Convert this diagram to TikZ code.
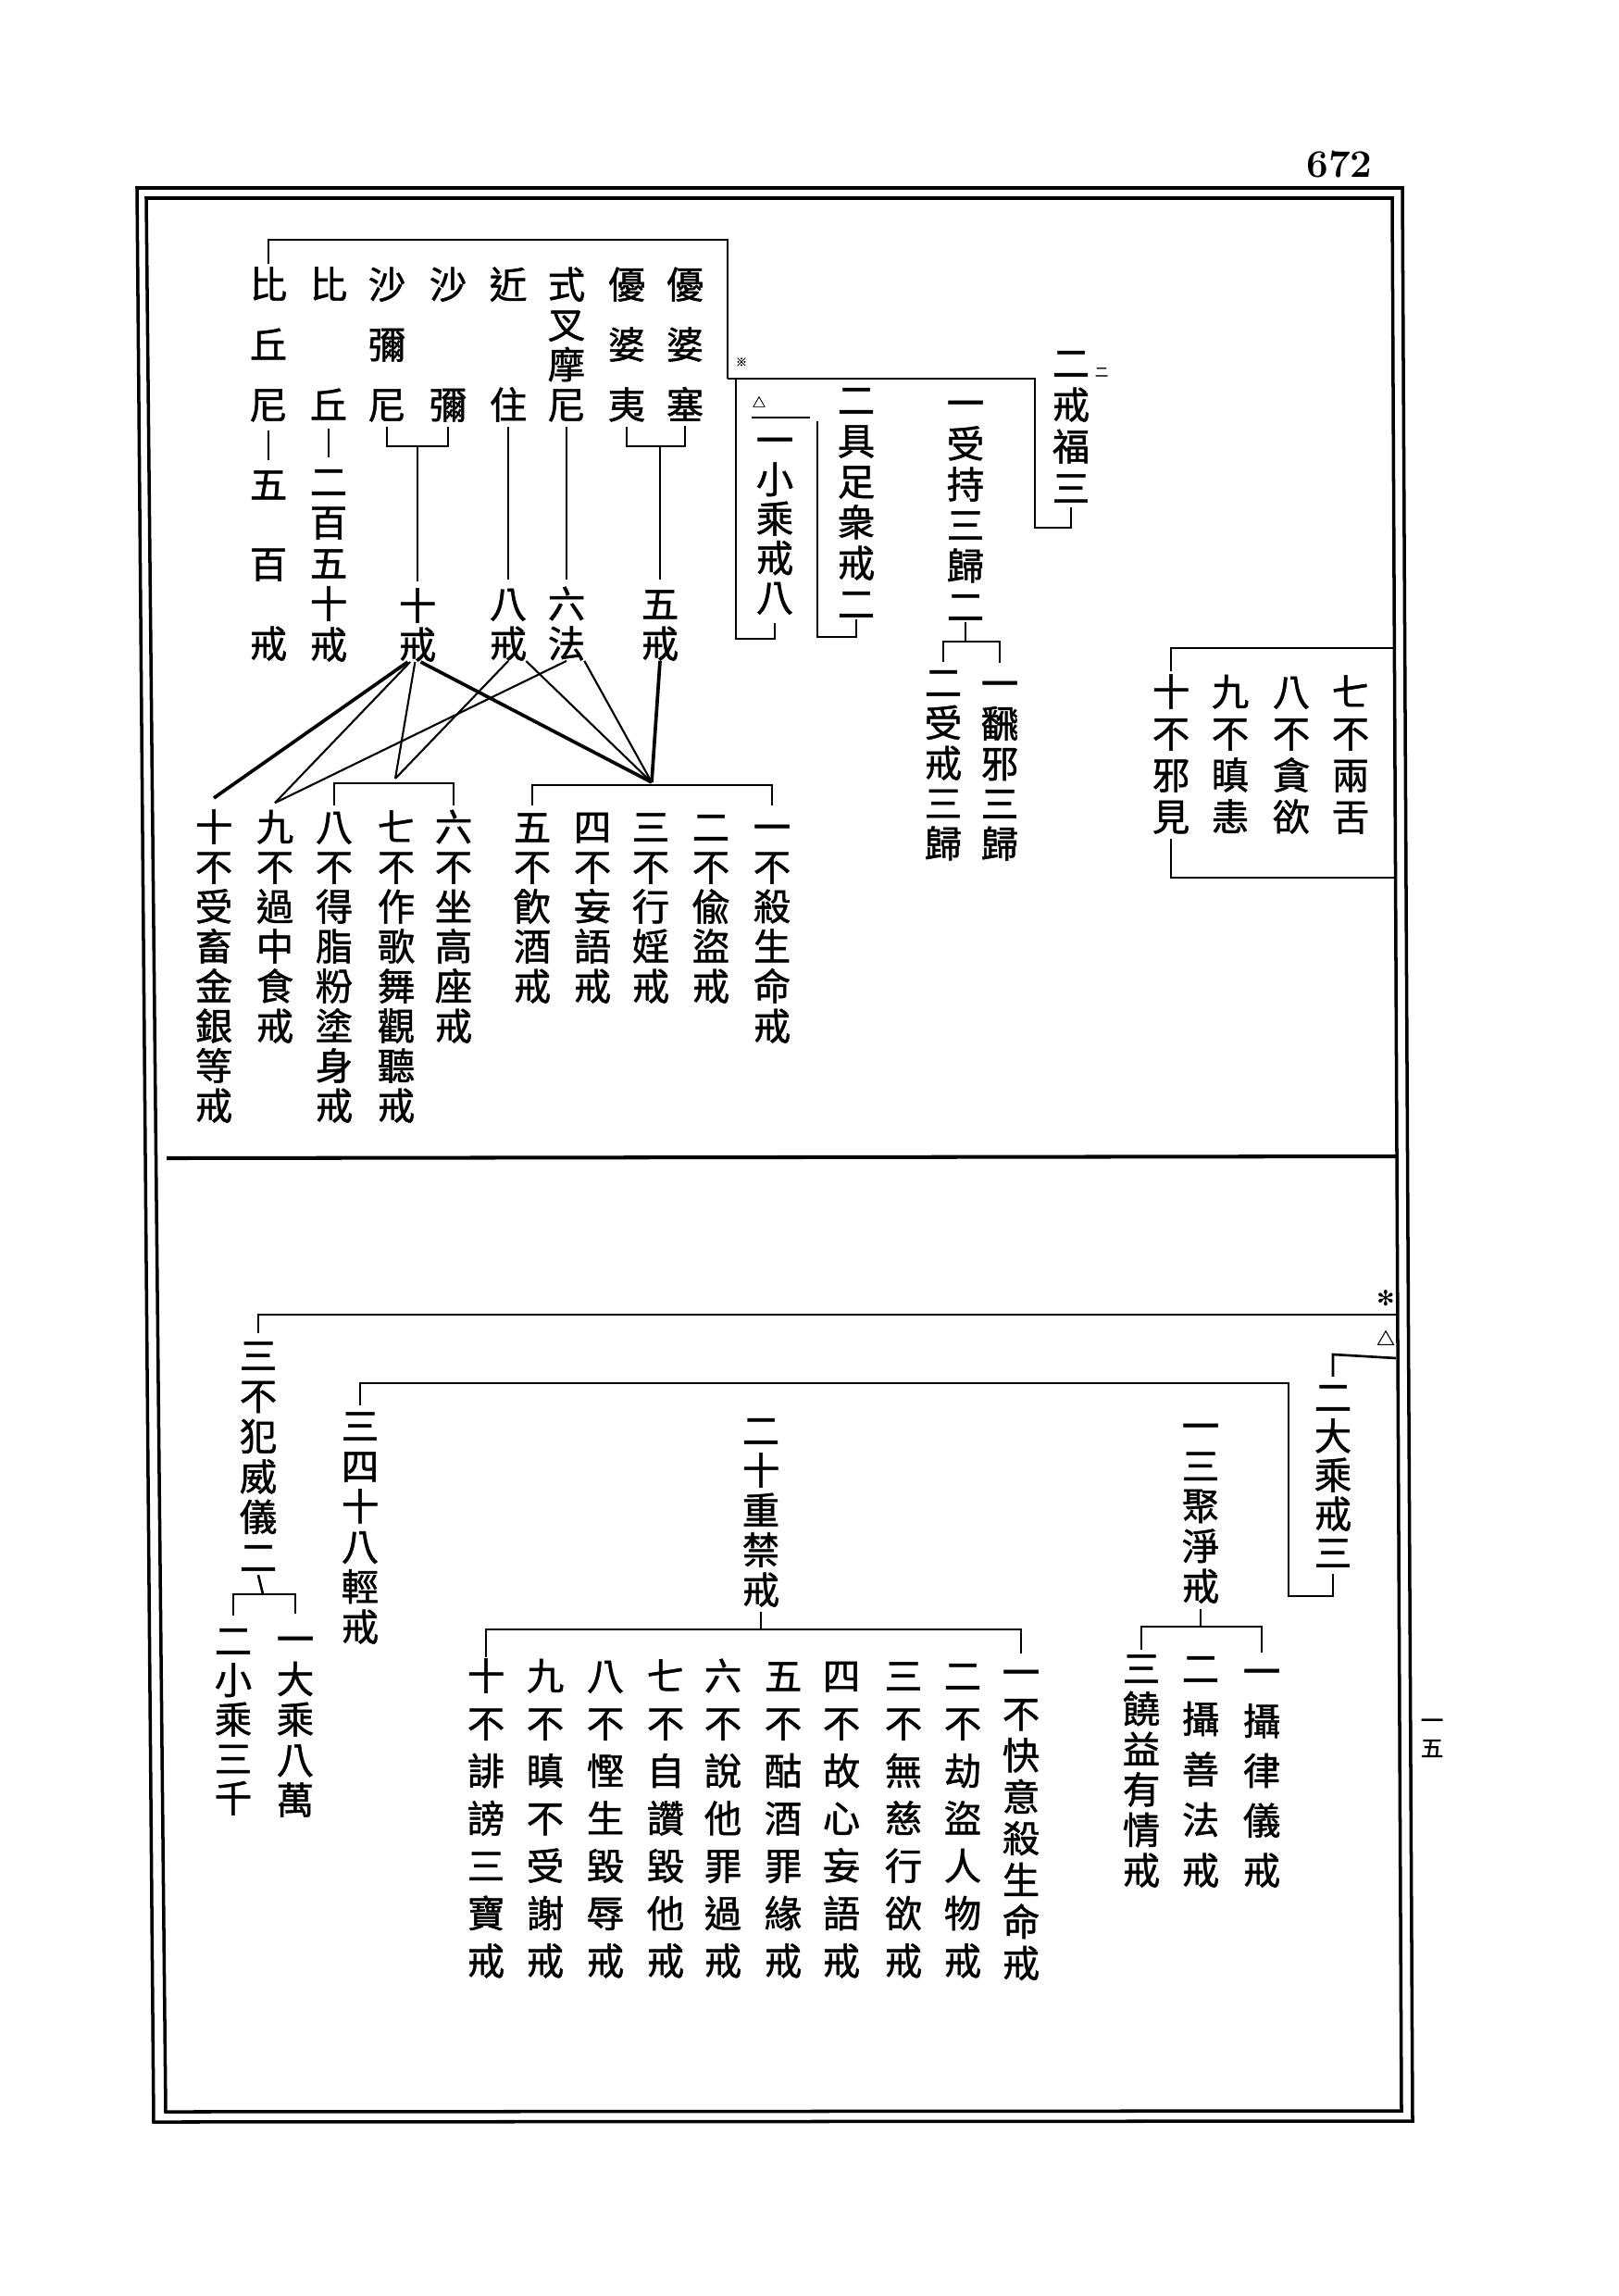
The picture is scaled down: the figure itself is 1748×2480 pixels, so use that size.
\documentclass[tikz,border=0pt]{standalone}
\usepackage{fontspec}
\newfontfamily\cjk{Noto Sans CJK TC}[FakeBold=1.2]
\newfontfamily\symb{DejaVu Sans}
\newdimen\pxu
\pxu=0.02cm
\lineskiplimit=-100pt
\ExplSyntaxOn
\NewDocumentCommand\tate{m}{\tl_map_inline:nn{#1}{##1\par}}
\ExplSyntaxOff

\begin{document}
\begin{tikzpicture}[
  x=0.02cm,
  y=-0.02cm,
  vcol/.style={
    anchor=base,
    yshift=-8.74pt,
    inner sep=0pt,
    text width=1cm,
    align=center,
    text height=20.2pt,
    font={\cjk\fontsize{23}{#1\pxu}\selectfont}
  },
  bracket/.style={line width=1.5pt},
  fan/.style={line width=1.2pt},
  thickfan/.style={line width=2.1pt},
  rule/.style={line width=2pt}
]
\useasboundingbox (0,0) rectangle (1748,2480);

\draw[rule] (148,203) -- (1515,203) -- (1526,2291) -- (166,2292) -- cycle;
\draw[rule] (158,214) -- (1504,214) -- (1514,2280) -- (179,2281) -- cycle;
\draw[rule, line width=2.3pt] (180,1251) -- (1509,1249);

\node[font=\bfseries\fontsize{24}{24}\selectfont] (pagenum) at (1447,178) {672};
\node[anchor=base, yshift=-5.3pt, inner sep=0pt, text width=0.6cm, align=center,
  font={\cjk\fontsize{14}{30\pxu}\selectfont}] (margin) at (1547,1858) {\tate{一五}};

\node[vcol=65] (ubsoku) at (740,307) {\tate{優婆塞}};
\node[vcol=65] (ubai) at (677,307) {\tate{優婆夷}};
\node[vcol=43.3] (shiki) at (612,307) {\tate{式叉摩尼}};
\node[vcol=130] (gonju) at (549,307) {\tate{近住}};
\node[vcol=130] (shami) at (484,307) {\tate{沙彌}};
\node[vcol=65] (shamini) at (418,307) {\tate{沙彌尼}};
\node[vcol=130] (biku) at (355,307) {\tate{比丘}};
\node[vcol=65] (bikuni) at (290,307) {\tate{比丘尼}};
\node[vcol=43] (gokai) at (713,652) {\tate{五戒}};
\node[vcol=43] (roppo) at (612,652) {\tate{六法}};
\node[vcol=43] (hakkai) at (549,652) {\tate{八戒}};
\node[vcol=42] (jukkai) at (451,654) {\tate{十戒}};
\node[vcol=44] (nihyaku) at (355,520) {\tate{二百五十戒}};
\node[vcol=86] (gohyaku) at (290,523) {\tate{五百戒}};

\node[vcol=45] (kaifuku) at (1157,392) {\tate{二戒福三}};
\node[vcol=44] (juji) at (1043,435) {\tate{一受持三歸二}};
\node[vcol=43.3] (honja) at (1080,738) {\tate{一飜邪三歸}};
\node[vcol=43.5] (jukai) at (1019,737) {\tate{二受戒三歸}};
\node[vcol=44] (gusoku) at (925,432) {\tate{二具足衆戒二}};
\node[vcol=42.5] (shojo) at (837,475) {\tate{一小乘戒八}};

\node[vcol=45] (zen7) at (1459,747) {\tate{七不兩舌}};
\node[vcol=45] (zen8) at (1395,747) {\tate{八不貪欲}};
\node[vcol=45] (zen9) at (1329,747) {\tate{九不瞋恚}};
\node[vcol=45] (zen10) at (1265,747) {\tate{十不邪見}};

\node[vcol=43] (sk1) at (834,893) {\tate{一不殺生命戒}};
\node[vcol=43] (sk2) at (768,893) {\tate{二不偸盜戒}};
\node[vcol=43] (sk3) at (703,893) {\tate{三不行婬戒}};
\node[vcol=43] (sk4) at (640,893) {\tate{四不妄語戒}};
\node[vcol=43] (sk5) at (575,893) {\tate{五不飮酒戒}};
\node[vcol=43] (sk6) at (490,893) {\tate{六不坐高座戒}};
\node[vcol=43] (sk7) at (428,893) {\tate{七不作歌舞觀聽戒}};
\node[vcol=43] (sk8) at (361,893) {\tate{八不得脂粉塗身戒}};
\node[vcol=43] (sk9) at (297,893) {\tate{九不過中食戒}};
\node[vcol=43] (sk10) at (231,893) {\tate{十不受畜金銀等戒}};

\node[vcol=42] (daijo) at (1440,1509) {\tate{二大乘戒三}};
\node[vcol=43.3] (sanju) at (1297,1540) {\tate{一三聚淨戒}};
\node[vcol=53.75] (ritsugi) at (1363,1805) {\tate{一攝律儀戒}};
\node[vcol=54.5] (zenpo) at (1297,1802) {\tate{二攝善法戒}};
\node[vcol=43.6] (nyoyaku) at (1233,1802) {\tate{三饒益有情戒}};
\node[vcol=43] (juju) at (822,1545) {\tate{二十重禁戒}};
\node[vcol=44.9] (jj1) at (1103,1806) {\tate{一不快意殺生命戒}};
\node[vcol=51.3] (jj2) at (1040,1810) {\tate{二不劫盜人物戒}};
\node[vcol=51.3] (jj3) at (976,1810) {\tate{三不無慈行欲戒}};
\node[vcol=51.3] (jj4) at (909,1810) {\tate{四不故心妄語戒}};
\node[vcol=51.3] (jj5) at (846,1810) {\tate{五不酤酒罪緣戒}};
\node[vcol=51.3] (jj6) at (781,1810) {\tate{六不說他罪過戒}};
\node[vcol=51.3] (jj7) at (719,1810) {\tate{七不自讚毀他戒}};
\node[vcol=51.3] (jj8) at (654,1810) {\tate{八不慳生毀辱戒}};
\node[vcol=51.3] (jj9) at (589,1810) {\tate{九不瞋不受謝戒}};
\node[vcol=51.3] (jj10) at (525,1810) {\tate{十不誹謗三寶戒}};
\node[vcol=43.4] (shijuhachi) at (389,1540) {\tate{三四十八輕戒}};
\node[vcol=43.6] (igi) at (279,1464) {\tate{三不犯威儀二}};
\node[vcol=43.5] (daiman) at (319,1770) {\tate{一大乘八萬}};
\node[vcol=42.5] (shosen) at (252,1772) {\tate{二小乘三千}};

\node[font=\cjk\fontsize{7}{7}\selectfont] (komeA) at (801,391) {※};
\node[font=\cjk\fontsize{8}{8}\selectfont] (deltaA) at (820,434) {△};
\node[font=\cjk\fontsize{8}{8}\selectfont] (niA) at (1190,402) {二};
\node[font=\symb\fontsize{13}{13}\selectfont] (komeB) at (1497,1402) {✻};
\node[font=\cjk\fontsize{11}{11}\selectfont] (deltaB) at (1497,1445) {△};

\coordinate (topbar) at (540,259);
\coordinate (hub) at (786,409);
\coordinate (fukubar) at (1118,570);
\coordinate (shobar) at (795,690);
\coordinate (gusobar) at (883,688);
\coordinate (jujibar) at (1043,693);
\coordinate (zentop) at (1506,700);
\coordinate (zenbot) at (1506,948);
\coordinate (gobar) at (713,482);
\coordinate (jubar) at (451,482);
\coordinate (apexA) at (704,845);
\coordinate (barA) at (704,848);
\coordinate (apexB) at (427,841);
\coordinate (barB) at (427,846);

\draw[bracket] ([yshift=1pt]bikuni.north) -- (bikuni.north |- topbar) -| (hub);
\draw[bracket] (hub) -| (fukubar) -- (kaifuku.south |- fukubar) -- ([yshift=-3pt]kaifuku.south);
\draw[bracket] (shobar |- hub) -- (shobar) -| ([yshift=-5pt]shojo.south);
\draw[bracket] ([yshift=2pt]shojo.north west) -- ++(63,0);
\draw[bracket] (gusobar |- shojo.north) -- (gusobar) -| ([yshift=-1pt]gusoku.south);
\draw[bracket] ([yshift=-1pt]juji.south) -- (jujibar);
\draw[bracket] ([yshift=1pt]jukai.north) -- (jukai.north |- jujibar) -- (honja.north |- jujibar) -- ([yshift=1pt]honja.north);
\draw[bracket] ([yshift=1pt]zen10.north) -- (zen10.north |- zentop) -- (zentop);
\draw[bracket] ([yshift=-3pt]zen10.south) -- (zen10.south |- zenbot) -- (zenbot);

\draw[bracket] ([yshift=-3pt]ubai.south) -- (ubai.south |- gobar) -- (ubsoku.south |- gobar) -- ([yshift=-3pt]ubsoku.south);
\draw[bracket] (gobar) -- ([yshift=3pt]gokai.north);
\draw[bracket] ([yshift=-3pt]shiki.south) -- ([yshift=3pt]roppo.north);
\draw[bracket] ([yshift=-3pt]gonju.south) -- ([yshift=3pt]hakkai.north);
\draw[bracket] ([yshift=-3pt]shamini.south) -- (shamini.south |- jubar) -- (shami.south |- jubar) -- ([yshift=-3pt]shami.south);
\draw[bracket] (jubar) -- ([yshift=3pt]jukkai.north);
\draw[bracket] ([yshift=-5pt]biku.south) -- ([yshift=3pt]nihyaku.north);
\draw[bracket] ([yshift=-5pt]bikuni.south) -- ([yshift=3pt]gohyaku.north);

\draw[thickfan] ([xshift=-6pt]jukkai.south) -- ([yshift=6pt]sk10.north);
\draw[fan] ([xshift=-4.5pt]jukkai.south) -- ([yshift=3pt]sk9.north);
\draw[fan] ([xshift=-1.5pt]jukkai.south) -- (apexB);
\draw[thickfan] ([xshift=2pt]jukkai.south) -- (apexA);
\draw[fan] (hakkai.south) -- (apexB);
\draw[fan] ([xshift=11pt]hakkai.south) -- (apexA);
\draw[fan] (roppo.south) -- ([yshift=3pt]sk9.north);
\draw[fan] ([xshift=11pt]roppo.south) -- (apexA);
\draw[thickfan] (gokai.south) -- (apexA);
\draw[bracket] ([yshift=1.5pt]sk5.north) -- (sk5.north |- barA) -- (sk1.north |- barA) -- ([yshift=1.5pt]sk1.north);
\draw[bracket] ([yshift=1.5pt]sk8.north) -- (sk8.north |- barB) -- (sk6.north |- barB) -- ([yshift=1.5pt]sk6.north);

\coordinate (kaiR) at (1508,1420);
\coordinate (daiR) at (1508,1467);
\coordinate (daitop) at (1392,1494);
\coordinate (daibar) at (1392,1724);
\coordinate (sanbar) at (1297,1757);
\coordinate (jubar2) at (822,1760);
\coordinate (igibar) at (284,1722);

\draw[bracket] ([yshift=2pt]igi.north) -- (igi.north |- kaiR) -- (kaiR);
\draw[bracket] ([yshift=1pt]daijo.north) -- (daijo.north |- 0,1463) -- (daiR);
\draw[bracket] ([yshift=1pt]shijuhachi.north) -- (shijuhachi.north |- daitop) -- (daitop) -- (daibar) -| ([yshift=-4pt]daijo.south);
\draw[bracket] ([yshift=-3pt]sanju.south) -- (sanbar);
\draw[bracket] (nyoyaku.north) -- (nyoyaku.north |- sanbar) -- (ritsugi.north |- sanbar) -- (ritsugi.north);
\draw[bracket] ([yshift=-3pt]juju.south) -- (jubar2);
\draw[bracket] (jj10.north) -- (jj10.north |- jubar2) -- (jj1.north |- jubar2) -- (jj1.north);
\draw[bracket] ([yshift=-2pt]igi.south) -- (igibar);
\draw[bracket] ([yshift=4pt]shosen.north) -- (shosen.north |- igibar) -- (daiman.north |- igibar) -- ([yshift=4pt]daiman.north);
\end{tikzpicture}
\end{document}
